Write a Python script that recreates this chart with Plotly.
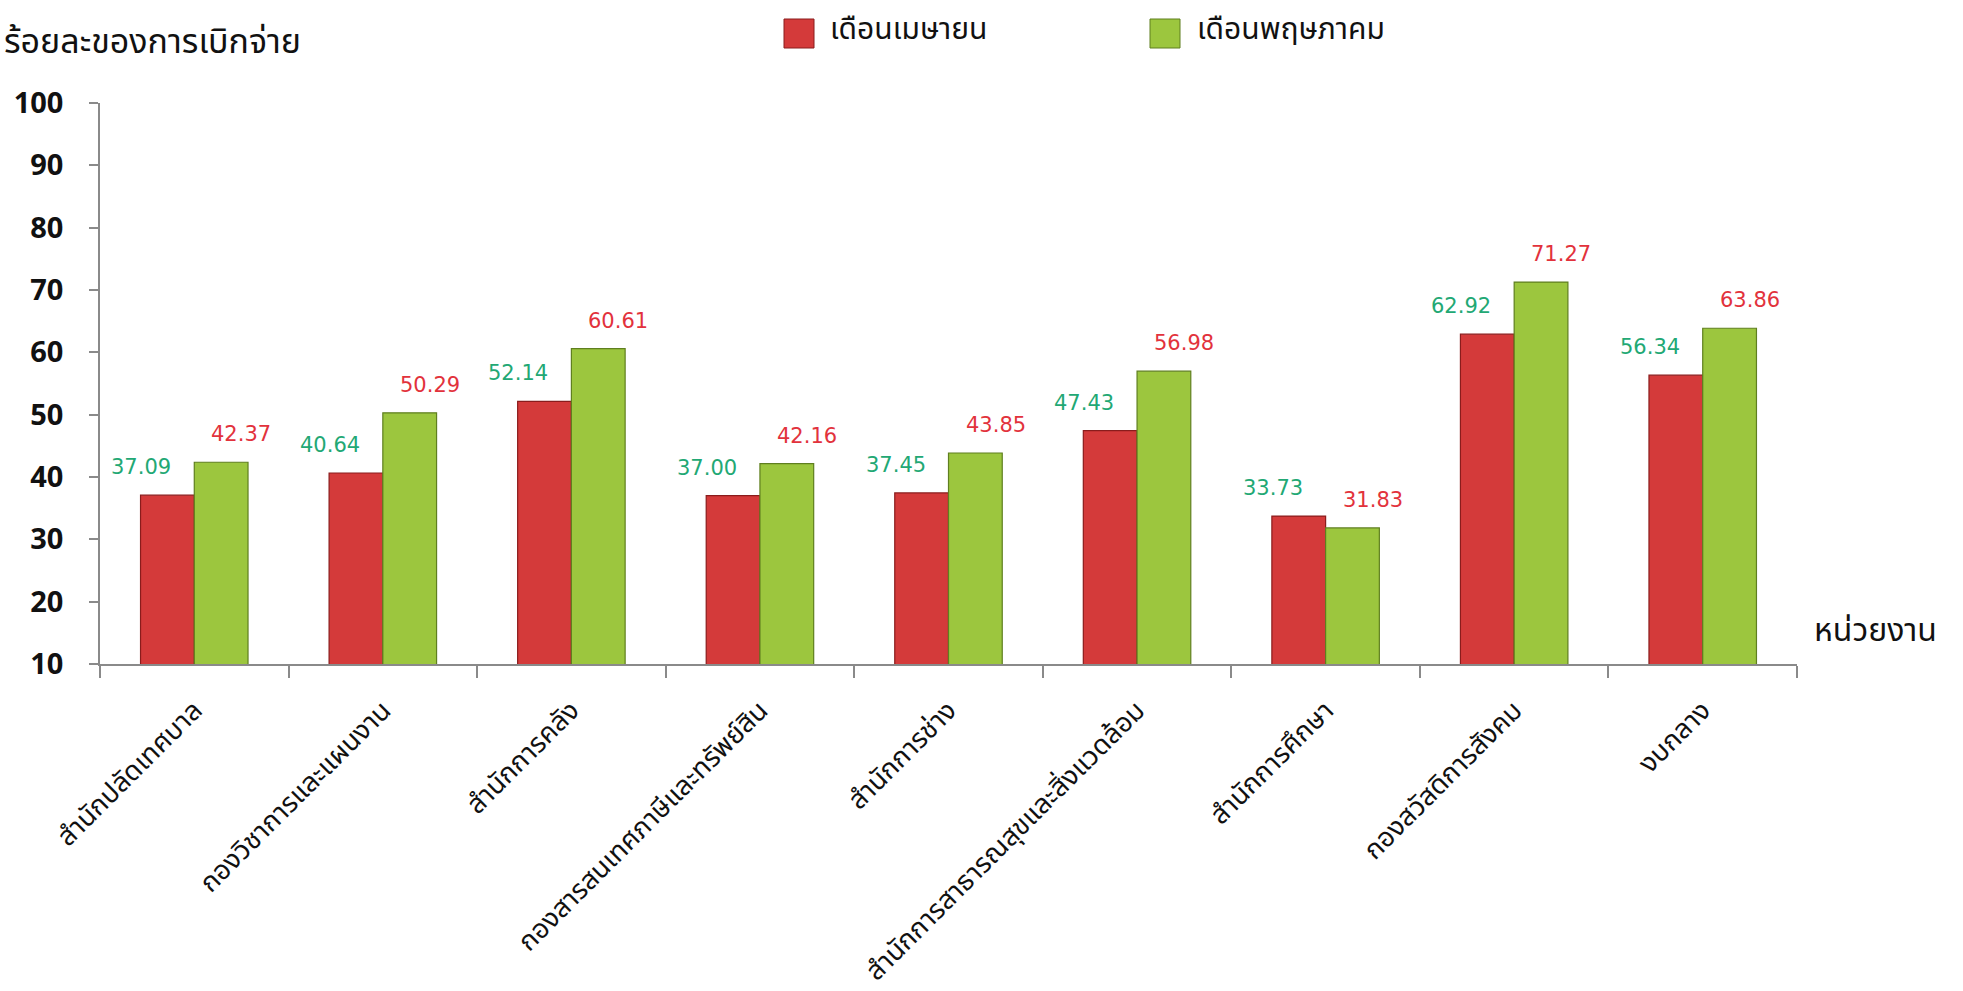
import plotly.graph_objects as go

categories = [
    "สำนักปลัดเทศบาล",
    "กองวิชาการและแผนงาน",
    "สำนักการคลัง",
    "กองสารสนเทศภาษีและทรัพย์สิน",
    "สำนักการช่าง",
    "สำนักการสาธารณสุขและสิ่งแวดล้อม",
    "สำนักการศึกษา",
    "กองสวัสดิการสังคม",
    "งบกลาง",
]
april = [37.09, 40.64, 52.14, 37.00, 37.45, 47.43, 33.73, 62.92, 56.34]
may = [42.37, 50.29, 60.61, 42.16, 43.85, 56.98, 31.83, 71.27, 63.86]
series_names = ["เดือนเมษายน", "เดือนพฤษภาคม"]
y_title = "ร้อยละของการเบิกจ่าย"
x_title = "หน่วยงาน"
y_ticks = [10, 20, 30, 40, 50, 60, 70, 80, 90, 100]

W, H = 1963, 991
L, R, T, B = 100, 166, 103, 327
PW, PH = W - L - R, H - T - B

def px_x(px):
    return (px - L) / PW

def px_y(py):
    return (H - B - py) / PH

THAI = "Tahoma, 'Noto Sans Thai', 'Noto Sans Thai UI', 'Noto Sans', sans-serif"
RED, RED_EDGE = "#d43a3a", "#8a1c1c"
GREEN, GREEN_EDGE = "#9cc63e", "#5f7f1f"
RED_TXT, GREEN_TXT = "#e2323c", "#22a874"

fig = go.Figure()
fig.add_trace(go.Bar(x=categories, y=april, name=series_names[0],
                     marker=dict(color=RED, line=dict(color=RED_EDGE, width=1.2)),
                     showlegend=False))
fig.add_trace(go.Bar(x=categories, y=may, name=series_names[1],
                     marker=dict(color=GREEN, line=dict(color=GREEN_EDGE, width=1.2)),
                     showlegend=False))

annotations = []
for c, v in zip(categories, april):
    annotations.append(dict(x=c, y=v, xref="x", yref="y", text=f"{v:.2f}", showarrow=False,
                            xshift=-53, yshift=28, yanchor="middle",
                            font=dict(family="DejaVu Sans", size=21, color=GREEN_TXT)))
for c, v in zip(categories, may):
    annotations.append(dict(x=c, y=v, xref="x", yref="y", text=f"{v:.2f}", showarrow=False,
                            xshift=47, yshift=28, yanchor="middle",
                            font=dict(family="DejaVu Sans", size=21, color=RED_TXT)))

# titles
annotations.append(dict(x=px_x(2), y=px_y(42), xref="paper", yref="paper", text=y_title,
                        showarrow=False, xanchor="left", yanchor="middle",
                        font=dict(family=THAI, size=34, color="#111111")))
annotations.append(dict(x=px_x(1812), y=px_y(631), xref="paper", yref="paper", text=x_title,
                        showarrow=False, xanchor="left", yanchor="middle",
                        font=dict(family=THAI, size=32, color="#111111")))

# legend (manual, large swatches)
shapes = []
for (x0, x1, tx), name, col, edge in [((784, 814, 828), series_names[0], RED, RED_EDGE),
                                      ((1150, 1180, 1195), series_names[1], GREEN, GREEN_EDGE)]:
    shapes.append(dict(type="rect", xref="paper", yref="paper",
                       x0=px_x(x0), x1=px_x(x1), y0=px_y(48), y1=px_y(19),
                       fillcolor=col, line=dict(color=edge, width=1)))
    annotations.append(dict(x=px_x(tx), y=px_y(30), xref="paper", yref="paper", text=name,
                            showarrow=False, xanchor="left", yanchor="middle",
                            font=dict(family=THAI, size=30, color="#111111")))

fig.update_layout(
    width=W, height=H, autosize=False,
    margin=dict(l=L, r=R, t=T, b=B, autoexpand=False),
    paper_bgcolor="white", plot_bgcolor="white",
    barmode="group", bargap=0.43, bargroupgap=0,
    annotations=annotations, shapes=shapes,
    showlegend=False,
)
fig.update_xaxes(
    automargin=False,
    showline=True, linecolor="#8a8a8a", linewidth=1.5,
    ticks="outside", tickson="boundaries", ticklen=12, tickcolor="#8a8a8a", tickwidth=1.5,
    tickangle=-45, ticklabelstandoff=18,
    tickfont=dict(family=THAI, size=27, color="#111111"),
    showgrid=False, zeroline=False,
)
fig.update_yaxes(
    automargin=False,
    range=[10, 100], tickvals=y_ticks, ticktext=[str(t) for t in y_ticks],
    showline=True, linecolor="#8a8a8a", linewidth=1.5,
    ticks="outside", ticklen=9, tickcolor="#8a8a8a", tickwidth=1.5,
    ticklabelstandoff=20,
    tickfont=dict(family="Open Sans", size=29, color="#111111", weight="bold"),
    showgrid=False, zeroline=False,
)

fig.write_html("out.html", config={"displayModeBar": False},
               post_script="document.body.style.margin='0';document.body.style.overflow='hidden';")
